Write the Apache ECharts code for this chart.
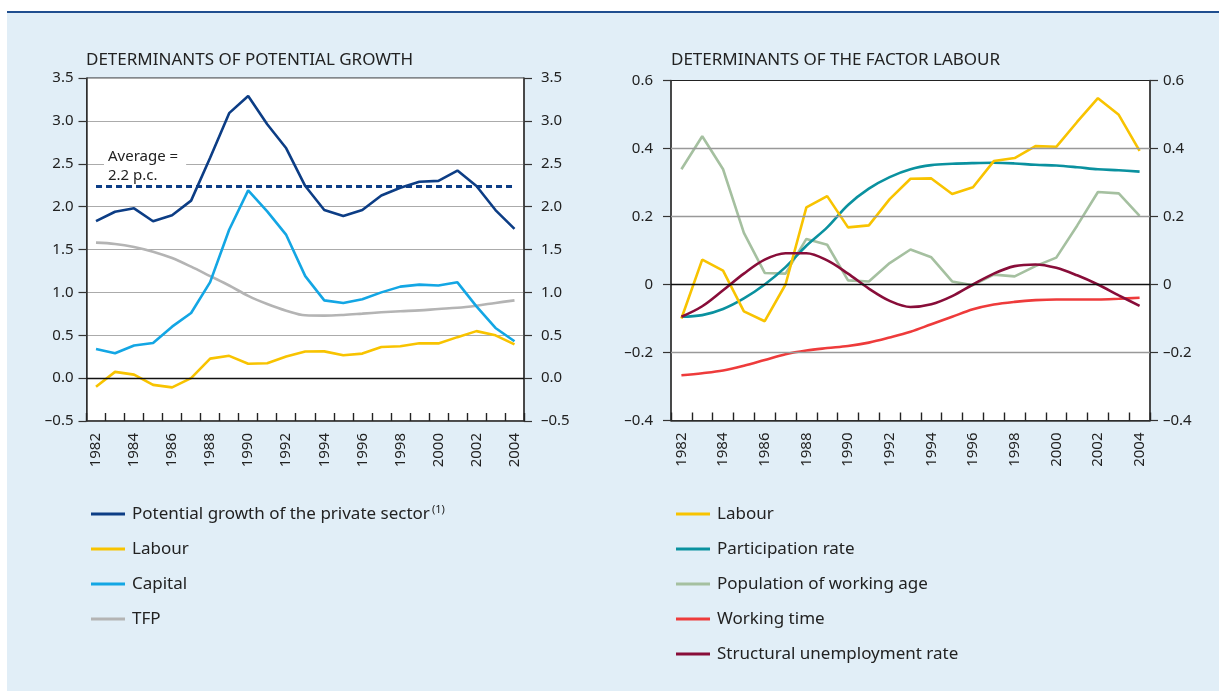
<!DOCTYPE html>
<html>
<head>
    <meta charset="utf-8">
    <title>Determinants of potential growth</title>
    <script src="https://cdn.jsdelivr.net/npm/echarts@6/dist/echarts.min.js"></script>
    <style>
        body { margin: 0; background: #fff; }
        #bg { position: absolute; left: 7px; top: 11px; width: 1212px; height: 680px; background: #e1eef7; border-top: 2px solid #1f4e8f; }
        .plot { position: absolute; background: #fff; }
        #main { position: absolute; left: 0; top: 0; width: 1219px; height: 691px; }
    </style>
</head>
<body>
    <div id="bg"></div>
    <div class="plot" style="left: 87px; top: 78px; width: 437px; height: 343px;"></div>
    <div class="plot" style="left: 671px; top: 80px; width: 479px; height: 341px;"></div>
    <div id="main"></div>
    <script type="text/javascript">
        var years = ['1982', '1983', '1984', '1985', '1986', '1987', '1988', '1989', '1990', '1991', '1992', '1993',
            '1994', '1995', '1996', '1997', '1998', '1999', '2000', '2001', '2002', '2003', '2004'];

        // left panel
        var potential = [1.83, 1.94, 1.98, 1.83, 1.90, 2.07, 2.57, 3.09, 3.29, 2.96, 2.68, 2.24,
            1.96, 1.89, 1.96, 2.13, 2.22, 2.29, 2.30, 2.42, 2.24, 1.96, 1.74];
        var labour = [-0.10, 0.073, 0.041, -0.079, -0.108, 0.0, 0.227, 0.26, 0.168, 0.174, 0.251, 0.311,
            0.312, 0.266, 0.286, 0.363, 0.372, 0.407, 0.405, 0.478, 0.548, 0.499, 0.393];
        var capital = [0.34, 0.29, 0.38, 0.41, 0.60, 0.76, 1.12, 1.73, 2.19, 1.945, 1.67, 1.19,
            0.907, 0.877, 0.92, 1.0, 1.067, 1.09, 1.08, 1.117, 0.837, 0.585, 0.43];
        var tfp = [1.58, 1.565, 1.53, 1.475, 1.40, 1.30, 1.19, 1.08, 0.96, 0.865, 0.787, 0.733,
            0.729, 0.737, 0.752, 0.768, 0.78, 0.79, 0.806, 0.82, 0.845, 0.877, 0.907];
        var averageValue = 2.24;
        var averageText = 'Average =\n2.2 p.c.';

        // right panel
        var participation = [-0.095, -0.09, -0.072, -0.041, 0.0, 0.051, 0.114, 0.168, 0.234, 0.282, 0.316, 0.339,
            0.351, 0.355, 0.357, 0.358, 0.356, 0.352, 0.35, 0.345, 0.339, 0.336, 0.332];
        var population = [0.339, 0.436, 0.339, 0.152, 0.034, 0.032, 0.134, 0.117, 0.012, 0.009, 0.063, 0.103,
            0.08, 0.009, -0.002, 0.029, 0.024, 0.054, 0.079, 0.173, 0.272, 0.268, 0.202];
        var workingTime = [-0.267, -0.261, -0.253, -0.239, -0.222, -0.205, -0.194, -0.187, -0.181, -0.171, -0.156, -0.139,
            -0.117, -0.095, -0.073, -0.059, -0.051, -0.046, -0.044, -0.044, -0.044, -0.042, -0.039];
        var structural = [-0.095, -0.064, -0.017, 0.032, 0.073, 0.092, 0.092, 0.071, 0.032, -0.012, -0.048, -0.066,
            -0.058, -0.034, 0.0, 0.032, 0.054, 0.059, 0.049, 0.027, 0.0, -0.032, -0.063];

        var leftTicks = { min: -0.5, max: 3.5, interval: 0.5 };
        var rightTicks = { min: -0.4, max: 0.6, interval: 0.2 };
        var rightGridValues = [-0.2, 0.2, 0.4];

        var potName = 'Potential growth of the private sector';
        var font = '"Noto Sans", "Open Sans", sans-serif';
        var textColor = '#222';

        function minus(s) {
            return s.replace('-', '\u2013');
        }

        function xAxisFor(gridIndex) {
            return {
                type: 'category',
                gridIndex: gridIndex,
                data: years,
                boundaryGap: true,
                axisLine: { onZero: false, lineStyle: { color: '#333', width: 1.5 } },
                axisTick: { show: true, inside: true, length: 8, interval: 0, lineStyle: { color: '#222', width: 1.4 } },
                axisLabel: {
                    interval: 1,
                    rotate: 90,
                    margin: 12,
                    color: textColor,
                    fontFamily: font,
                    fontSize: 15
                },
                splitLine: { show: false }
            };
        }

        function yAxisFor(gridIndex, ticks, pos, margin, fmt, grid) {
            return {
                type: 'value',
                gridIndex: gridIndex,
                position: pos,
                min: ticks.min,
                max: ticks.max,
                interval: ticks.interval,
                axisLine: { show: true, onZero: false, lineStyle: { color: '#333', width: 1.5 } },
                axisTick: { show: true, length: 8, lineStyle: { color: '#333', width: 1.2 } },
                axisLabel: {
                    margin: margin,
                    color: textColor,
                    fontFamily: font,
                    fontSize: 15,
                    formatter: fmt
                },
                splitLine: { show: grid, lineStyle: { color: '#ababab', width: 1 } }
            };
        }

        var fmtLeft = function(v) { return minus(v.toFixed(1)); };
        var fmtRight = function(v) { return Math.abs(v) < 1e-9 ? '0' : minus(v.toFixed(1)); };

        function refLines(grayValues) {
            var data = grayValues.map(function(v) {
                return { yAxis: v, lineStyle: { color: '#999999', width: 1.4, type: 'solid', opacity: 1 } };
            });
            data.push({ yAxis: 0, lineStyle: { color: '#111', width: 1.3, type: 'solid', opacity: 1 } });
            return {
                silent: true,
                symbol: 'none',
                precision: 2,
                label: { show: false },
                lineStyle: { type: 'solid', opacity: 1 },
                data: data
            };
        }

        function line(name, data, color, xi, yi, smooth, extra) {
            var s = {
                name: name,
                type: 'line',
                xAxisIndex: xi,
                yAxisIndex: yi,
                data: data,
                symbol: 'none',
                smooth: smooth ? 0.35 : false,
                lineStyle: { color: color, width: 2.6 },
                itemStyle: { color: color },
                animation: false
            };
            if (extra) {
                for (var k in extra) s[k] = extra[k];
            }
            return s;
        }

        var legendRich = {
            t: { fontSize: 17, color: textColor, fontFamily: font, padding: [0, 0, 0, 2], lineHeight: 20 },
            s: { fontSize: 11, color: textColor, fontFamily: font, padding: [0, 0, 9, 2], lineHeight: 20 }
        };

        function legendFor(names, left) {
            return {
                orient: 'vertical',
                left: left,
                top: 499,
                icon: 'rect',
                itemWidth: 34,
                itemHeight: 3,
                itemGap: 15,
                selectedMode: false,
                data: names,
                formatter: function(name) {
                    return name === potName ? '{t|' + name + '}{s|(1)}' : '{t|' + name + '}';
                },
                textStyle: { rich: legendRich, lineHeight: 20 }
            };
        }

        var option = {
            animation: false,
            title: [{
                text: 'DETERMINANTS OF POTENTIAL GROWTH',
                left: 81,
                top: 47,
                textStyle: { fontFamily: font, fontSize: 17, fontWeight: 'normal', color: textColor }
            }, {
                text: 'DETERMINANTS OF THE FACTOR LABOUR',
                left: 666,
                top: 47,
                textStyle: { fontFamily: font, fontSize: 17, fontWeight: 'normal', color: textColor }
            }],
            grid: [{
                left: 86.5, top: 78, width: 437.5, height: 343,
                show: true, backgroundColor: 'transparent', borderColor: '#222', borderWidth: 1
            }, {
                left: 671, top: 80.5, width: 479, height: 340,
                show: true, backgroundColor: 'transparent', borderColor: '#222', borderWidth: 1
            }],
            xAxis: [xAxisFor(0), xAxisFor(1)],
            yAxis: [
                yAxisFor(0, leftTicks, 'left', 13, fmtLeft, true),
                yAxisFor(0, leftTicks, 'right', 17, fmtLeft, false),
                yAxisFor(1, rightTicks, 'left', 18, fmtRight, false),
                yAxisFor(1, rightTicks, 'right', 13, fmtRight, false)
            ],
            legend: [
                legendFor([potName, 'Labour', 'Capital', 'TFP'], 86),
                legendFor(['Labour', 'Participation rate', 'Population of working age', 'Working time', 'Structural unemployment rate'], 671)
            ],
            graphic: [{
                type: 'text',
                left: 104,
                top: 146,
                z: 5,
                style: {
                    text: averageText,
                    fontFamily: font,
                    fontSize: 15,
                    lineHeight: 19,
                    fill: textColor,
                    backgroundColor: '#fff',
                    padding: [1, 8, 1, 4]
                }
            }],
            series: [
                line('TFP', tfp, '#b4b4b4', 0, 0, true, { markLine: refLines([]) }),
                line('Capital', capital, '#13a6e4', 0, 0, false),
                line('Labour', labour, '#f8c300', 0, 0, false),
                line(potName, potential, '#0c3d85', 0, 0, false, {
                    markLine: {
                        silent: true,
                        symbol: 'none',
                        label: { show: false },
                        lineStyle: { color: '#0c3d85', width: 3, type: [6, 4] },
                        data: [[{ coord: [years[0], averageValue] }, { coord: [years[years.length - 1], averageValue] }]]
                    }
                }),
                line('Population of working age', population, '#a5c0a0', 1, 2, false, { markLine: refLines(rightGridValues) }),
                line('Working time', workingTime, '#ee3b3b', 1, 2, true),
                line('Participation rate', participation, '#0a919f', 1, 2, true),
                line('Labour', labour, '#f8c300', 1, 2, false),
                line('Structural unemployment rate', structural, '#880d39', 1, 2, true)
            ]
        };

        var chart = echarts.init(document.getElementById('main'));
        chart.setOption(option);
    </script>
</body>
</html>
